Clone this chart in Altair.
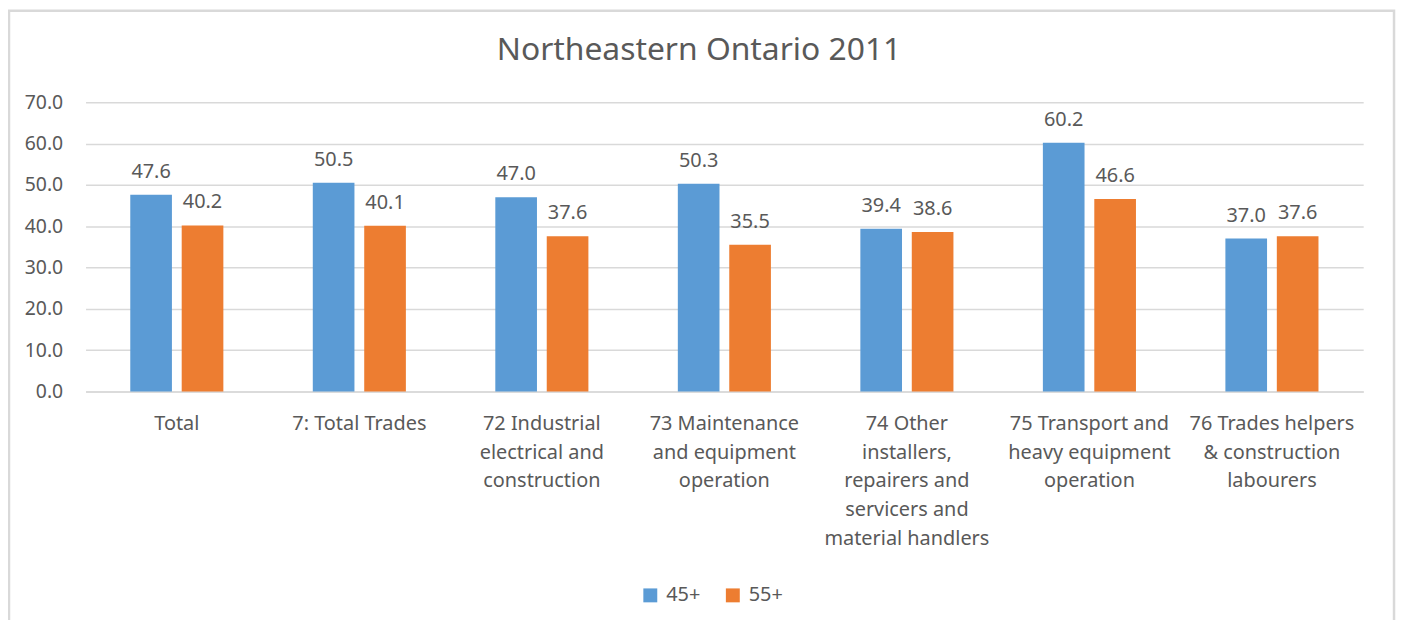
import altair as alt
import pandas as pd

categories = [
    "Total",
    "7: Total Trades",
    "72 Industrial|electrical and|construction",
    "73 Maintenance|and equipment|operation",
    "74 Other|installers,|repairers and|servicers and|material handlers",
    "75 Transport and|heavy equipment|operation",
    "76 Trades helpers|& construction|labourers",
]
series = ["45+", "55+"]
values_45 = [47.6, 50.5, 47.0, 50.3, 39.4, 60.2, 37.0]
values_55 = [40.2, 40.1, 37.6, 35.5, 38.6, 46.6, 37.6]
y_ticks = [0, 10, 20, 30, 40, 50, 60, 70]
title_text = "Northeastern Ontario 2011"

rows = []
for c, a, b in zip(categories, values_45, values_55):
    rows.append({"category": c, "series": "45+", "value": a})
    rows.append({"category": c, "series": "55+", "value": b})
df = pd.DataFrame(rows)

FONT = "Noto Sans"
TXT = "#595959"
GRID = "#D9D9D9"

x_enc = alt.X(
    "category:N",
    sort=categories,
    scale=alt.Scale(paddingInner=0.49, paddingOuter=0.245),
    axis=alt.Axis(
        title=None,
        labelAngle=0,
        labelExpr="split(datum.value, '|')",
        labelFont=FONT,
        labelFontSize=20,
        labelColor=TXT,
        labelLineHeight=29,
        labelPadding=22,
        labelBaseline="top",
        ticks=False,
        domainColor=GRID,
        domainWidth=1.5,
        grid=False,
        labelLimit=400,
    ),
)
xoff = alt.XOffset("series:N", sort=series, scale=alt.Scale(paddingInner=0.19, paddingOuter=0))
y_enc = alt.Y(
    "value:Q",
    scale=alt.Scale(domain=[0, 70], nice=False),
    axis=alt.Axis(
        title=None,
        values=y_ticks,
        format=".1f",
        labelFont=FONT,
        labelFontSize=19.5,
        labelColor=TXT,
        labelPadding=23,
        ticks=False,
        domain=False,
        gridColor=GRID,
        gridWidth=1.5,
    ),
)
color_enc = alt.Color(
    "series:N",
    sort=series,
    scale=alt.Scale(domain=series, range=["#5B9BD5", "#ED7D31"]),
    legend=alt.Legend(
        title=None,
        orient="none",
        legendX=558,
        legendY=486,
        direction="horizontal",
        symbolType="square",
        symbolSize=196,
        symbolStrokeWidth=0,
        labelFont=FONT,
        labelFontSize=20,
        labelColor=TXT,
        columnPadding=22,
        labelOffset=6,
    ),
)

base = alt.Chart(df)
bars = base.mark_bar().encode(x=x_enc, xOffset=xoff, y=y_enc, color=color_enc)
labels = base.mark_text(
    font=FONT, fontSize=20, color=TXT, baseline="alphabetic", dy=-17
).encode(
    x=alt.X("category:N", sort=categories),
    xOffset=alt.XOffset("series:N", sort=series),
    y="value:Q",
    text=alt.Text("value:Q", format=".1f"),
)
frame_df = pd.DataFrame({"t": [title_text]})
border = alt.Chart(frame_df).mark_rect(
    fill=None, stroke=GRID, strokeWidth=2.5
).encode(
    x=alt.value(-77), x2=alt.value(1316), y=alt.value(-92), y2=alt.value(580)
)
title = alt.Chart(frame_df).mark_text(
    font=FONT, fontSize=32, color=TXT, baseline="alphabetic", align="center"
).encode(
    x=alt.value(617), y=alt.value(-42), text="t:N"
)

chart = alt.layer(border, title, bars, labels).properties(
    width=1285,
    height=291,
    autosize=alt.AutoSizeParams(type="none"),
    padding={"left": 78, "top": 93, "right": 34, "bottom": 228},
).configure_view(stroke=None)

chart.save("out.html", embed_options={"renderer": "svg", "actions": False})
